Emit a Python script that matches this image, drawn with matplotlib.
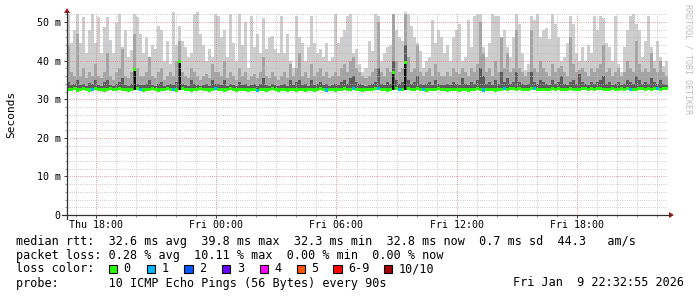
import matplotlib
matplotlib.use("Agg")
import matplotlib.pyplot as plt
import matplotlib.dates as mdates
from matplotlib.ticker import MultipleLocator, FuncFormatter
from matplotlib.patches import Rectangle, Polygon
from matplotlib.lines import Line2D
from datetime import datetime, timedelta
import numpy as np

# ---------------- data ----------------
start_time = datetime(2026, 1, 8, 16, 32, 55)
step_minutes = 9
rtt_min = 32.3  # ms

smoke_max = [
    52, 44.5, 48, 52, 44.5, 51.3, 42, 48, 52, 44.5, 51.3, 42, 48.7, 51.3, 45.3, 42, 49.7, 52, 43.5, 48, 41, 42.7, 52, 51.3, 47,
    42, 46, 41, 44, 43, 49, 48, 40, 45, 39, 52.5, 44, 49, 45, 43.5, 41, 42, 52, 52.5, 47, 44, 40, 43, 41, 52,
    51.5, 46, 48, 41, 52, 44.5, 40, 52, 44, 50, 38, 51.5, 43.5, 47, 42, 51, 43, 46, 46.5, 43, 42, 51.5, 42, 47, 40,
    38, 51.5, 46, 44.5, 40, 43.5, 51.5, 44.5, 42, 43, 41, 44.5, 40, 41, 52, 44.5, 46, 48, 51.5, 52, 42, 43, 39, 37, 38,
    45, 42.5, 52, 51.5, 40, 42, 43.5, 44, 52, 48, 46, 45, 52.5, 52, 49, 46, 44.5, 42.5, 38, 40, 41, 50.5, 44.5, 48, 46,
    42, 44, 40, 46, 48, 49.5, 40, 41, 50.5, 43.5, 51.5, 52, 52, 43.5, 41, 44.5, 52, 51.5, 51.5, 46, 48, 43.5, 41, 46, 52,
    49.5, 42, 37.5, 39, 51.5, 50.5, 52, 46, 48, 48.5, 45.5, 52, 49.5, 46, 40, 41, 44.5, 51.5, 49.5, 42, 40, 43.5, 40, 44, 42,
    51.5, 48, 51.5, 51, 44.5, 43.5, 40, 51.5, 39, 37, 43.5, 48, 51.5, 52, 49.5, 48, 41, 45, 51.5, 43.5, 40, 45, 41, 38.5, 40,
]

smoke_mid = [
    44, 37, 36, 47, 36, 38, 35.5, 37, 36, 39, 36, 35.5, 37, 42, 36, 35, 37, 38, 43, 36, 35.5, 37, 47, 38, 36,
    36, 37, 41, 36, 35.5, 37, 38, 35, 36, 37, 36, 40, 45, 37, 36, 35.5, 38, 37, 36, 35, 36, 36.5, 35.5, 39, 37,
    37, 36, 40, 35.5, 37, 36, 35, 38, 36, 37, 35, 36, 36.5, 35.5, 37, 41, 36, 35.5, 37, 36, 35, 36, 37, 35.5, 39,
    36, 38, 42, 36, 37, 35.5, 39, 36, 37, 38, 36, 37, 35.5, 36, 37, 36, 38, 39, 37, 40, 41, 38, 37, 36, 35.5,
    36, 37, 38, 50, 37, 36, 38, 37, 52, 40, 37, 38, 52, 41, 37, 38, 44, 37, 36, 37, 38, 36, 39, 37, 36,
    36, 37, 36, 38, 37, 36.5, 38, 37, 36, 38, 37, 39, 50, 42, 37, 38, 36, 40, 37, 46, 38, 42, 37, 38, 48,
    38, 37, 36, 37, 48, 38, 37, 40, 38, 37, 36, 39, 37, 38, 38.5, 37, 36, 46, 39, 37, 37.5, 38, 37, 36, 38,
    37, 38, 39, 44, 37, 38, 36, 37, 38, 36, 37, 40, 38, 37, 45, 39, 37, 38, 37, 42, 38, 37, 40, 37, 36,
]

smoke_dark = [
    34.5, 33.8, 34, 35, 33.6, 34, 33.5, 34.2, 34, 35, 33.8, 33.5, 34.5, 35, 33.8, 33.5, 34, 34.5, 35.5, 33.8, 33.5, 34, 38, 34, 33.8,
    33.8, 34, 35, 33.6, 33.5, 34, 34.5, 33.5, 33.8, 34, 33.6, 34.5, 40, 34, 33.8, 33.5, 35, 34, 33.6, 33.5, 33.8, 34, 33.5, 35, 34,
    34, 33.6, 35, 33.5, 34, 33.8, 33.5, 34.5, 33.6, 34, 33.5, 33.8, 34, 33.5, 34, 35.5, 33.8, 33.5, 34, 33.6, 33.5, 33.8, 34, 33.5, 35,
    33.8, 34.5, 35, 33.6, 34, 33.5, 35, 33.8, 34, 34.5, 33.6, 34, 33.5, 33.8, 34, 33.6, 34.5, 35, 34, 35.5, 36, 34.5, 34, 33.8, 33.5,
    33.8, 34, 34.5, 38, 34, 33.8, 34.5, 34, 40, 35, 34, 34.5, 44, 35, 34, 34.5, 36, 34, 33.8, 34, 34.5, 33.8, 35, 34, 33.8,
    33.8, 34, 33.6, 34.5, 34, 33.8, 35.5, 34, 33.6, 34.5, 34, 35, 38, 36, 34, 34.5, 33.8, 35, 34, 37, 34.5, 35.5, 34, 34.5, 37,
    34.5, 34, 33.6, 34, 37, 34.5, 34, 35, 34.5, 34, 33.8, 35, 34, 34.5, 36, 34, 33.8, 34.5, 35, 34, 36.5, 34.5, 34, 33.8, 34.5,
    34, 34.5, 35, 36, 34, 34.5, 33.8, 34, 34.5, 33.8, 34, 35, 34.5, 34, 36, 35, 34, 34.5, 34, 35.5, 34.5, 34, 35, 34, 33.8,
]

# dense (black) smoke columns
core_index = [22, 37, 108, 112]
core_top = [37.5, 39.6, 37.0, 39.5]

median_rtt = [
    32.6, 32.5, 32.7, 32.4, 32.6, 32.8, 32.5, 32.4, 32.6, 32.7, 32.5, 32.6, 32.4, 32.5, 32.7, 32.6, 32.5, 32.8, 32.6, 32.5, 32.4, 32.6, 37.6, 32.7, 32.5,
    32.4, 32.6, 32.5, 32.7, 32.5, 32.4, 32.6, 32.5, 32.8, 32.6, 32.5, 32.4, 39.8, 32.7, 32.6, 32.5, 32.4, 32.6, 32.5, 32.7, 32.6, 32.5, 32.4, 32.6, 32.8,
    32.5, 32.6, 32.4, 32.5, 32.7, 32.6, 32.4, 32.5, 32.6, 32.5, 32.4, 32.6, 32.5, 32.3, 32.5, 32.6, 32.4, 32.5, 32.7, 32.5, 32.4, 32.6, 32.5, 32.4, 32.6,
    32.5, 32.4, 32.6, 32.5, 32.4, 32.6, 32.5, 32.4, 32.5, 32.7, 32.5, 32.4, 32.6, 32.5, 32.4, 32.5, 32.6, 32.8, 32.6, 32.5, 32.7, 32.6, 32.5, 32.4, 32.5,
    32.6, 32.5, 32.7, 32.8, 32.6, 32.5, 32.4, 32.6, 37.0, 32.7, 32.5, 32.6, 39.5, 32.8, 32.6, 32.5, 32.7, 32.6, 32.5, 32.4, 32.6, 32.5, 32.6, 32.7, 32.5,
    32.5, 32.4, 32.5, 32.6, 32.5, 32.4, 32.6, 32.5, 32.4, 32.5, 32.6, 32.7, 32.5, 32.4, 32.5, 32.6, 32.5, 32.4, 32.6, 32.5, 32.7, 32.6, 32.8, 32.7, 32.6,
    32.7, 32.6, 32.5, 32.6, 32.8, 32.7, 32.6, 32.5, 32.6, 32.5, 32.6, 32.7, 32.6, 32.8, 32.6, 32.5, 32.6, 32.7, 32.6, 32.5, 32.6, 32.7, 32.8, 32.6, 32.7,
    32.6, 32.7, 32.8, 32.6, 32.5, 32.6, 32.7, 32.5, 32.6, 32.8, 32.6, 32.7, 32.6, 32.5, 32.6, 32.7, 32.8, 32.6, 32.7, 32.6, 32.8, 32.7, 32.6, 32.7, 32.8,
]

loss_count = [
    0, 0, 0, 0, 0, 0, 0, 0, 1, 0, 0, 0, 0, 0, 0, 0, 0, 0, 0, 0, 0, 0, 0, 0, 1,
    0, 0, 0, 0, 0, 0, 0, 0, 0, 0, 1, 0, 0, 0, 0, 0, 0, 0, 0, 0, 0, 0, 0, 0, 1,
    0, 0, 0, 0, 0, 0, 0, 0, 0, 0, 0, 0, 0, 1, 0, 0, 0, 0, 0, 0, 0, 0, 0, 0, 0,
    0, 0, 0, 0, 0, 0, 0, 0, 0, 0, 0, 1, 0, 0, 0, 0, 0, 0, 0, 0, 1, 0, 0, 0, 0,
    0, 0, 0, 1, 0, 0, 0, 0, 0, 0, 1, 0, 0, 0, 0, 0, 0, 0, 1, 0, 0, 0, 0, 0, 0,
    0, 0, 0, 0, 0, 0, 0, 0, 0, 0, 0, 0, 0, 1, 0, 0, 0, 0, 0, 0, 1, 0, 0, 0, 0,
    0, 0, 0, 0, 0, 1, 0, 0, 0, 0, 0, 0, 0, 0, 0, 0, 0, 0, 0, 0, 0, 0, 0, 0, 0,
    0, 0, 0, 0, 0, 0, 0, 0, 0, 0, 0, 0, 1, 0, 0, 0, 0, 0, 0, 0, 0, 1, 0, 0, 0,
]

loss_labels = ["0", "1", "2", "3", "4", "5", "6-9", "10/10"]
loss_colors = ["#26ff00", "#00b8ff", "#0059ff", "#6a00ff", "#ff00ff", "#ff5500", "#ff0000", "#a10000"]

stats_line1 = "median rtt:  32.6 ms avg  39.8 ms max  32.3 ms min  32.8 ms now  0.7 ms sd  44.3   am/s"
stats_line2 = "packet loss: 0.28 % avg  10.11 % max  0.00 % min  0.00 % now"
probe_line = "probe:       10 ICMP Echo Pings (56 Bytes) every 90s"
stamp = "Fri Jan  9 22:32:55 2026"

# ---------------- figure ----------------
W, H = 697, 297
MONO = "DejaVu Sans Mono"
fig = plt.figure(figsize=(W / 100, H / 100), dpi=100, facecolor="white")

def fx(px):
    return px / W

def fy(py):
    return 1 - py / H

X0, X1, YT, YB = 67, 668, 12, 215
ax = fig.add_axes([fx(X0), fy(YB), (X1 - X0) / W, (YB - YT) / H])
ax.set_facecolor("white")

n = len(smoke_max)
times = [start_time + timedelta(minutes=step_minutes * (i + 0.5)) for i in range(n)]
xs = mdates.date2num(times)
bw = step_minutes / 1440.0

smax = np.array(smoke_max)
smid = np.array(smoke_mid)
sdark = np.array(smoke_dark)
med = np.array(median_rtt)

ax.bar(xs, smax - rtt_min, bottom=rtt_min, width=bw, color="#cdcdcd", linewidth=0, zorder=1)
ax.bar(xs, smid - rtt_min, bottom=rtt_min, width=bw, color="#a4a4a4", linewidth=0, zorder=1.1)
ax.bar(xs, sdark - rtt_min, bottom=rtt_min, width=bw, color="#5c5c5c", linewidth=0, zorder=1.2)
core_x = xs[core_index]
ax.bar(core_x, np.array(core_top) - rtt_min, bottom=rtt_min, width=bw * 0.7,
       color="#111111", linewidth=0, zorder=1.3)

band = 0.4
med_colors = [loss_colors[l] for l in loss_count]
ax.bar(xs, 2 * band, bottom=med - band, width=bw, color=med_colors, linewidth=0, zorder=3)

ax.set_xlim(mdates.date2num(start_time), mdates.date2num(start_time + timedelta(hours=30)))
ax.set_ylim(0, 52.6)

ax.xaxis.set_major_locator(mdates.HourLocator(byhour=[0, 6, 12, 18]))
ax.xaxis.set_minor_locator(mdates.HourLocator())
ax.xaxis.set_major_formatter(mdates.DateFormatter("%a %H:%M"))
ax.yaxis.set_major_locator(MultipleLocator(10))
ax.yaxis.set_minor_locator(MultipleLocator(2))
ax.yaxis.set_major_formatter(FuncFormatter(lambda v, p: "0" if v == 0 else f"{int(round(v))} m"))

ax.set_axisbelow(False)
dot = (0, (0.72, 1.44))
ax.grid(which="minor", color="#bdbdbd", linestyle=dot, linewidth=0.72)
ax.grid(which="major", color="#e07c7c", linestyle=dot, linewidth=0.72)

for s in ax.spines.values():
    s.set_visible(False)

ax.tick_params(which="major", length=2.5, width=0.72, color="#404040",
               labelsize=7.2, labelcolor="black", pad=2)
ax.tick_params(which="minor", length=1.5, width=0.72, color="#a0a0a0")
ax.tick_params(axis="x", which="major", pad=1.2)
for lab in ax.get_xticklabels() + ax.get_yticklabels():
    lab.set_family(MONO)

# axis lines with arrows
axis_col = "#303030"
arrow_col = "#9c1a1a"
fig.add_artist(Line2D([fx(62), fx(670)], [fy(215), fy(215)], color=axis_col, lw=0.9))
fig.add_artist(Line2D([fx(67), fx(67)], [fy(219), fy(12)], color=axis_col, lw=0.9))
fig.add_artist(Polygon([[fx(669), fy(212)], [fx(674), fy(215)], [fx(669), fy(218)]],
                       closed=True, transform=fig.transFigure, color=arrow_col, lw=0))
fig.add_artist(Polygon([[fx(64), fy(13)], [fx(67), fy(8)], [fx(70), fy(13)]],
                       closed=True, transform=fig.transFigure, color=arrow_col, lw=0))

# titles / side texts
fig.text(fx(11), fy(114), "Seconds", rotation=90, ha="center", va="center",
         family=MONO, fontsize=8, color="black")
fig.text(fx(688), fy(4), "RRDTOOL / TOBI OETIKER", rotation=270, ha="center", va="top",
         family=MONO, fontsize=6, color="#bdbdbd")

# legend / stats
FS = 8.5
fig.text(fx(16), fy(241), stats_line1, ha="left", va="center", family=MONO, fontsize=FS)
fig.text(fx(16), fy(255), stats_line2, ha="left", va="center", family=MONO, fontsize=FS)
fig.text(fx(16), fy(269), "loss color:", ha="left", va="center", family=MONO, fontsize=FS)
square_x = [108.7, 146.8, 184, 222, 259.5, 296.6, 333, 383.5]
for sx, lab, col in zip(square_x, loss_labels, loss_colors):
    fig.add_artist(Rectangle((fx(sx), fy(273)), 8.5 / W, 8.5 / H, transform=fig.transFigure,
                             facecolor=col, edgecolor="black", lw=0.8))
    fig.text(fx(sx + 15), fy(269), lab, ha="left", va="center", family=MONO, fontsize=FS)
fig.text(fx(16), fy(283), probe_line, ha="left", va="center", family=MONO, fontsize=FS)
fig.text(fx(684), fy(283), stamp, ha="right", va="center", family=MONO, fontsize=FS)

fig.savefig("out.png", dpi=100, facecolor="white")
